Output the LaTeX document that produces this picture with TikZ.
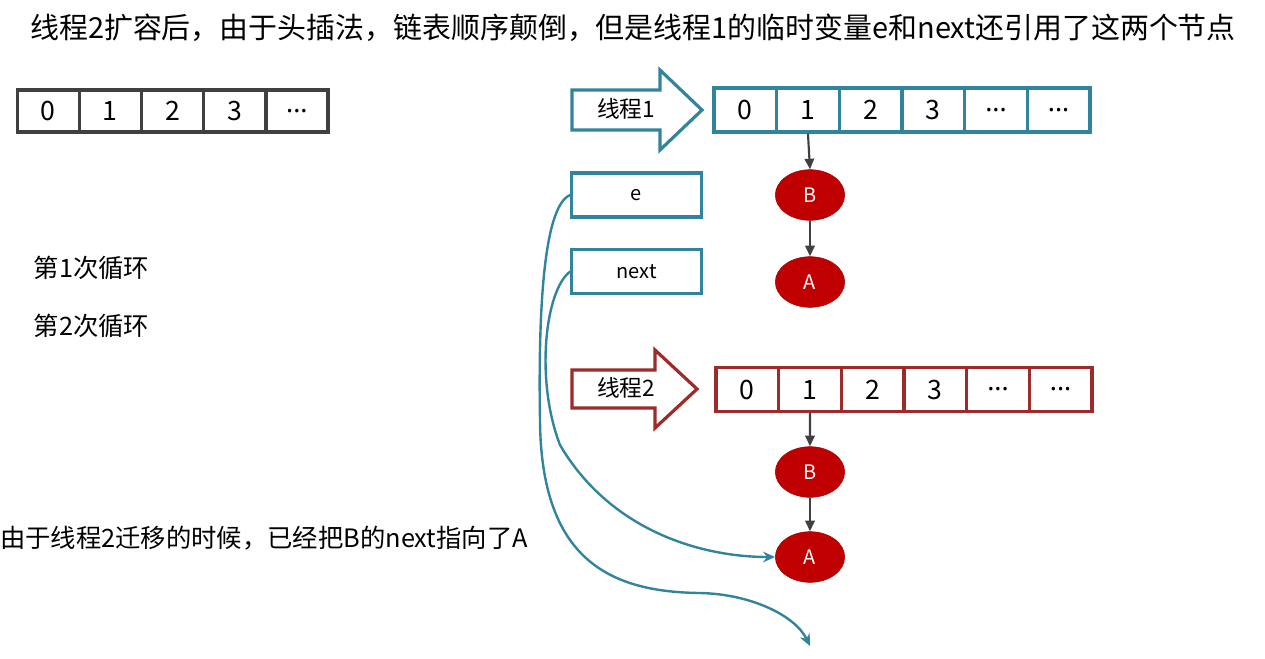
\documentclass[tikz,border=0pt]{standalone}
\usepackage{fontspec}
\setmainfont{Noto Sans CJK SC}
\newfontfamily\latinfont{Noto Sans}
\usetikzlibrary{arrows.meta, shapes.geometric}
\definecolor{tealline}{HTML}{31849B}
\definecolor{redline}{HTML}{9C2B29}
\definecolor{nodered}{HTML}{C00000}
\definecolor{darkline}{HTML}{404040}
\newcommand{\celldots}{{\latinfont ...}}

\tikzset{
  cell/.style={draw, line width=2.4pt, minimum width=47pt, minimum height=33pt, inner sep=0pt, font=\fontsize{20}{22}\selectfont},
  listnode/.style={ellipse, fill=nodered, draw=nodered!85!black, minimum width=52pt, minimum height=38pt, inner sep=0pt, text=white, font=\fontsize{15}{17}\selectfont},
  varbox/.style={draw=tealline, line width=2.4pt, minimum width=97pt, minimum height=33pt, inner sep=0pt, font=\fontsize{15}{17}\selectfont},
  ptr/.style={darkline, line width=1.6pt, -{Triangle[length=8pt,width=7pt]}},
  ref/.style={tealline, line width=1.8pt, -{Stealth[length=9pt,width=8pt]}},
  thread/.style={line width=2.4pt, fill=white, line join=miter}
}

\begin{document}
\begin{tikzpicture}[x=0.75pt, y=-0.75pt]
  \useasboundingbox (0,0) rectangle (1265,658);

  % 标题
  \node[font=\fontsize{21.7}{24}\selectfont] (title) at (633,28) {线程2扩容后，由于头插法，链表顺序颠倒，但是线程1的临时变量e和next还引用了这两个节点};

  % 原数组
  \foreach \v [count=\i from 0] in {0,1,2,3,\celldots}
    \node[cell, draw=darkline, minimum width=46.5pt, minimum height=31.5pt] (old\i) at (48.1+62.2*\i,111) {\v};

  % 循环说明
  \node[anchor=west, font=\fontsize{19}{22}\selectfont] (loop1) at (29,268) {第1次循环};
  \node[anchor=west, font=\fontsize{19}{22}\selectfont] (loop2) at (29,326) {第2次循环};
  \node[anchor=west, inner sep=0pt, font=\fontsize{19}{22}\selectfont] (note) at (0,538) {由于线程2迁移的时候，已经把B的next指向了A};

  % 线程1
  \draw[thread, draw=tealline] (572,90) -- (660,90) -- (660,70) -- (702,110) -- (660,150) -- (660,130) -- (572,130) -- cycle;
  \node[font=\fontsize{17}{20}\selectfont] (th1) at (626,109) {线程1};
  \foreach \v [count=\i from 0] in {0,1,2,3,\celldots,\celldots}
    \node[cell, draw=tealline] (ta\i) at (745.3+62.67*\i,110) {\v};
  \node[listnode] (taB) at (810,195) {B};
  \node[listnode] (taA) at (810,282) {A};
  \draw[ptr] (ta1.south) -- (taB.north);
  \draw[ptr] (taB.south) -- (taA.north);

  % 临时变量
  \node[varbox] (e) at (636.5,195) {e};
  \node[varbox] (next) at (636.5,271.5) {next};

  % 线程2
  \draw[thread, draw=redline] (572,370) -- (655,370) -- (655,350) -- (697,389) -- (655,428) -- (655,408) -- (572,408) -- cycle;
  \node[font=\fontsize{17}{20}\selectfont] (th2) at (626,388) {线程2};
  \foreach \v [count=\i from 0] in {0,1,2,3,\celldots,\celldots}
    \node[cell, draw=redline] (tb\i) at (747.3+62.67*\i,389.5) {\v};
  \node[listnode] (tbB) at (810,472) {B};
  \node[listnode] (tbA) at (810,557) {A};
  \draw[ptr] (tb1.south) -- (tbB.north);
  \draw[ptr] (tbB.south) -- (tbA.north);

  % 引用
  \coordinate (lost) at (810,646);
  \draw[ref] (e.west) .. controls (545,205) and (538,300) .. (540,420)
    .. controls (541,560) and (610,592) .. (700,593)
    .. controls (750,594) and (795,615) .. (lost);
  \draw[ref] (next.west) .. controls (545,290) and (535,380) .. (560,445)
    .. controls (610,530) and (700,557) .. (tbA.west);
\end{tikzpicture}
\end{document}
